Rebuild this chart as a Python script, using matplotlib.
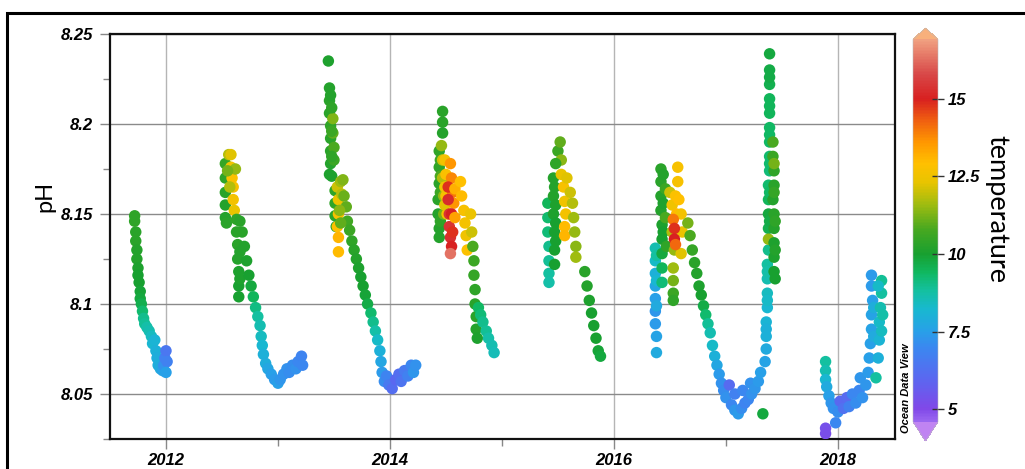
import matplotlib
matplotlib.use("Agg")
import matplotlib.pyplot as plt
from matplotlib.colors import LinearSegmentedColormap, Normalize
from matplotlib.patches import Rectangle
import pandas as pd

# dados: (ano decimal, pH, temperatura)
season_2011 = [
    (2011.72, 8.149, 10.4), (2011.72, 8.146, 10.4), (2011.73, 8.140, 10.3), (2011.73, 8.135, 10.3),
    (2011.74, 8.130, 10.2), (2011.74, 8.125, 10.2), (2011.75, 8.120, 10.1), (2011.75, 8.116, 10.0),
    (2011.76, 8.112, 10.0), (2011.77, 8.107, 9.9), (2011.77, 8.103, 9.8), (2011.78, 8.100, 9.6),
    (2011.79, 8.096, 9.3), (2011.80, 8.092, 9.0), (2011.81, 8.089, 8.9), (2011.83, 8.087, 8.7),
    (2011.85, 8.085, 8.6), (2011.87, 8.082, 8.4), (2011.88, 8.078, 8.2), (2011.90, 8.080, 8.1),
    (2011.91, 8.074, 8.0), (2011.92, 8.070, 7.9), (2011.93, 8.066, 7.9), (2011.95, 8.064, 7.8),
    (2011.97, 8.063, 7.6), (2011.98, 8.066, 7.2), (2011.99, 8.070, 6.8), (2012.00, 8.074, 6.5),
    (2012.01, 8.068, 6.8), (2012.00, 8.062, 7.5),
]

season_2012 = [
    (2012.53, 8.178, 10.5), (2012.53, 8.170, 10.4), (2012.53, 8.162, 10.3), (2012.53, 8.155, 10.2),
    (2012.53, 8.148, 10.2), (2012.54, 8.145, 10.3), (2012.56, 8.183, 11.8), (2012.58, 8.183, 12.2),
    (2012.58, 8.176, 12.5), (2012.59, 8.170, 12.8), (2012.60, 8.165, 12.7), (2012.60, 8.158, 12.6),
    (2012.61, 8.152, 12.3), (2012.57, 8.165, 11.8), (2012.62, 8.175, 11.5), (2012.55, 8.174, 11.2),
    (2012.63, 8.147, 10.4), (2012.63, 8.140, 10.3), (2012.64, 8.133, 10.3), (2012.64, 8.125, 10.2),
    (2012.65, 8.118, 10.1), (2012.65, 8.110, 10.0), (2012.65, 8.104, 10.0), (2012.66, 8.146, 10.3),
    (2012.66, 8.129, 10.2), (2012.66, 8.114, 10.1),
    (2012.68, 8.140, 10.3), (2012.70, 8.132, 10.2), (2012.72, 8.124, 10.1), (2012.74, 8.116, 10.0),
    (2012.76, 8.110, 9.8), (2012.78, 8.104, 9.5), (2012.80, 8.098, 9.1), (2012.82, 8.093, 8.8),
    (2012.84, 8.088, 8.6), (2012.85, 8.082, 8.4), (2012.86, 8.077, 8.2), (2012.87, 8.072, 8.0),
    (2012.89, 8.067, 7.9), (2012.91, 8.064, 7.7), (2012.94, 8.061, 7.5), (2012.97, 8.058, 7.4),
    (2013.00, 8.056, 7.5), (2013.02, 8.058, 7.3), (2013.05, 8.061, 7.2), (2013.08, 8.064, 7.2),
    (2013.10, 8.062, 7.1), (2013.13, 8.066, 7.1), (2013.16, 8.064, 7.2), (2013.18, 8.068, 7.0),
    (2013.21, 8.071, 6.9), (2013.22, 8.066, 7.0),
]

season_2013 = [
    (2013.45, 8.235, 10.1), (2013.46, 8.220, 10.2), (2013.46, 8.213, 10.3), (2013.46, 8.206, 10.3),
    (2013.47, 8.199, 10.4), (2013.47, 8.192, 10.3), (2013.47, 8.185, 10.3), (2013.47, 8.178, 10.2),
    (2013.46, 8.172, 10.1), (2013.48, 8.171, 10.1), (2013.49, 8.203, 11.3), (2013.49, 8.195, 11.0),
    (2013.50, 8.187, 10.8), (2013.50, 8.180, 10.6), (2013.47, 8.216, 10.2), (2013.48, 8.209, 10.4),
    (2013.48, 8.196, 10.6), (2013.48, 8.182, 10.4),
    (2013.51, 8.163, 10.4), (2013.51, 8.156, 10.4), (2013.51, 8.149, 10.3), (2013.52, 8.143, 10.2),
    (2013.53, 8.165, 12.0), (2013.54, 8.158, 12.4), (2013.54, 8.150, 12.7), (2013.53, 8.143, 12.9),
    (2013.54, 8.137, 13.1), (2013.54, 8.129, 13.0), (2013.56, 8.168, 11.6), (2013.57, 8.161, 11.8),
    (2013.58, 8.169, 11.3), (2013.59, 8.160, 11.1), (2013.61, 8.154, 11.0), (2013.62, 8.146, 10.7),
    (2013.64, 8.141, 10.6), (2013.55, 8.152, 11.4), (2013.56, 8.145, 11.0),
    (2013.66, 8.135, 10.4), (2013.68, 8.130, 10.3), (2013.70, 8.125, 10.2), (2013.72, 8.120, 10.1),
    (2013.74, 8.115, 10.0), (2013.76, 8.110, 10.0), (2013.78, 8.105, 9.9), (2013.80, 8.100, 9.7),
    (2013.83, 8.095, 9.3), (2013.85, 8.090, 9.0), (2013.87, 8.085, 8.7), (2013.89, 8.080, 8.3),
    (2013.91, 8.074, 8.0), (2013.92, 8.068, 7.7), (2013.93, 8.062, 7.4), (2013.95, 8.057, 7.1),
    (2013.97, 8.060, 6.9), (2013.99, 8.055, 6.6), (2014.02, 8.053, 6.2), (2014.05, 8.058, 6.0),
    (2014.08, 8.061, 6.2), (2014.10, 8.057, 6.4), (2014.13, 8.063, 6.6), (2014.16, 8.060, 6.8),
    (2014.19, 8.066, 7.0), (2014.21, 8.062, 7.3), (2014.23, 8.066, 7.2),
]

season_2014 = [
    (2014.47, 8.207, 10.3), (2014.47, 8.201, 10.3), (2014.47, 8.195, 10.2),
    (2014.44, 8.185, 10.4), (2014.44, 8.176, 10.4), (2014.44, 8.167, 10.3), (2014.43, 8.158, 10.3),
    (2014.43, 8.150, 10.2), (2014.44, 8.142, 10.2), (2014.44, 8.137, 10.2), (2014.45, 8.180, 10.6),
    (2014.45, 8.171, 10.8), (2014.45, 8.162, 10.6), (2014.45, 8.146, 10.4),
    (2014.46, 8.188, 11.5), (2014.47, 8.180, 12.0), (2014.47, 8.170, 11.8), (2014.48, 8.160, 11.5),
    (2014.48, 8.150, 11.2), (2014.49, 8.180, 12.6), (2014.50, 8.172, 12.8), (2014.50, 8.160, 12.7),
    (2014.51, 8.150, 12.5), (2014.49, 8.165, 12.4), (2014.49, 8.155, 12.2),
    (2014.54, 8.178, 13.6), (2014.55, 8.170, 13.8), (2014.56, 8.162, 14.0), (2014.57, 8.156, 13.6),
    (2014.52, 8.165, 14.8), (2014.52, 8.158, 15.2), (2014.53, 8.150, 15.4), (2014.53, 8.143, 15.4),
    (2014.54, 8.137, 15.3), (2014.55, 8.132, 15.0), (2014.56, 8.140, 14.8), (2014.55, 8.150, 15.0),
    (2014.54, 8.128, 16.3), (2014.58, 8.164, 13.2), (2014.58, 8.148, 13.4),
    (2014.63, 8.168, 12.9), (2014.64, 8.160, 13.0), (2014.66, 8.152, 12.7), (2014.67, 8.145, 12.6),
    (2014.68, 8.138, 12.5), (2014.69, 8.130, 12.8), (2014.72, 8.150, 12.4), (2014.73, 8.140, 12.0),
    (2014.74, 8.132, 10.8), (2014.75, 8.124, 10.6), (2014.75, 8.116, 10.5), (2014.76, 8.108, 10.4),
    (2014.76, 8.100, 10.3), (2014.77, 8.093, 10.3), (2014.77, 8.086, 10.2), (2014.78, 8.081, 10.1),
    (2014.79, 8.098, 9.4), (2014.81, 8.094, 9.2), (2014.83, 8.090, 9.0), (2014.86, 8.085, 8.9),
    (2014.88, 8.081, 8.7), (2014.91, 8.077, 8.6), (2014.93, 8.073, 8.5),
]

season_2015 = [
    (2015.41, 8.156, 9.5), (2015.41, 8.148, 9.3), (2015.41, 8.140, 9.2), (2015.42, 8.132, 9.0),
    (2015.42, 8.124, 8.9), (2015.42, 8.117, 8.8), (2015.42, 8.112, 8.7),
    (2015.46, 8.170, 10.2), (2015.46, 8.160, 10.2), (2015.46, 8.150, 10.1), (2015.47, 8.140, 10.0),
    (2015.47, 8.130, 10.0), (2015.47, 8.122, 10.0), (2015.50, 8.185, 10.6), (2015.52, 8.190, 11.0),
    (2015.53, 8.180, 11.4), (2015.48, 8.178, 10.4), (2015.47, 8.165, 10.2), (2015.48, 8.155, 10.1),
    (2015.48, 8.145, 10.0), (2015.48, 8.135, 10.0),
    (2015.53, 8.172, 12.3), (2015.55, 8.165, 12.7), (2015.56, 8.157, 12.5), (2015.57, 8.150, 12.6),
    (2015.58, 8.170, 12.2), (2015.56, 8.143, 13.0), (2015.56, 8.138, 13.1),
    (2015.63, 8.156, 11.8), (2015.64, 8.148, 11.6), (2015.65, 8.140, 11.5), (2015.66, 8.132, 11.4),
    (2015.66, 8.126, 11.6), (2015.61, 8.162, 12.0),
    (2015.74, 8.118, 10.3), (2015.76, 8.110, 10.2), (2015.78, 8.102, 10.1), (2015.80, 8.095, 10.0),
    (2015.82, 8.088, 10.0), (2015.84, 8.081, 10.0), (2015.86, 8.074, 9.9), (2015.88, 8.071, 9.8),
]

season_2016 = [
    (2016.37, 8.131, 8.6), (2016.37, 8.124, 8.3), (2016.37, 8.117, 8.0), (2016.37, 8.110, 7.7),
    (2016.37, 8.103, 7.5), (2016.37, 8.096, 7.3), (2016.37, 8.089, 7.4), (2016.38, 8.082, 7.6),
    (2016.38, 8.073, 7.8), (2016.38, 8.127, 8.8), (2016.38, 8.113, 8.2), (2016.38, 8.099, 7.8),
    (2016.42, 8.175, 10.3), (2016.42, 8.168, 10.3), (2016.42, 8.160, 10.2), (2016.42, 8.152, 10.2),
    (2016.43, 8.144, 10.1), (2016.43, 8.136, 10.0), (2016.43, 8.128, 9.8), (2016.43, 8.120, 9.5),
    (2016.43, 8.112, 9.2), (2016.44, 8.172, 10.2), (2016.44, 8.156, 10.1), (2016.44, 8.140, 10.0),
    (2016.46, 8.164, 10.6), (2016.46, 8.148, 10.8), (2016.47, 8.132, 10.4),
    (2016.57, 8.176, 12.7), (2016.57, 8.168, 12.7), (2016.50, 8.162, 12.0), (2016.52, 8.155, 12.5),
    (2016.55, 8.160, 12.8), (2016.56, 8.150, 13.0), (2016.52, 8.140, 11.8), (2016.54, 8.130, 11.5),
    (2016.60, 8.150, 12.6), (2016.61, 8.140, 12.4), (2016.60, 8.128, 12.2), (2016.58, 8.158, 12.9),
    (2016.53, 8.147, 14.0), (2016.54, 8.142, 14.8), (2016.54, 8.136, 15.0), (2016.55, 8.133, 14.2),
    (2016.53, 8.120, 11.6), (2016.53, 8.113, 11.2), (2016.53, 8.106, 10.6), (2016.53, 8.102, 10.4),
    (2016.66, 8.145, 11.2), (2016.68, 8.138, 10.8), (2016.70, 8.130, 10.5), (2016.72, 8.123, 10.3),
    (2016.74, 8.117, 10.2), (2016.76, 8.110, 10.1), (2016.78, 8.105, 10.0), (2016.80, 8.099, 9.7),
    (2016.82, 8.094, 9.3), (2016.84, 8.089, 8.9), (2016.86, 8.084, 8.6), (2016.88, 8.077, 8.3),
    (2016.90, 8.071, 8.0), (2016.92, 8.066, 7.7), (2016.94, 8.061, 7.4), (2016.96, 8.056, 7.2),
    (2016.98, 8.052, 7.1), (2017.00, 8.048, 7.2), (2017.03, 8.055, 6.1), (2017.05, 8.044, 7.0),
    (2017.08, 8.041, 7.3), (2017.08, 8.050, 6.8), (2017.11, 8.039, 7.4), (2017.14, 8.042, 7.1),
    (2017.15, 8.052, 7.0), (2017.17, 8.045, 6.9), (2017.20, 8.047, 7.0), (2017.22, 8.056, 7.2),
    (2017.23, 8.050, 7.2), (2017.26, 8.053, 7.3), (2017.29, 8.057, 7.4), (2017.31, 8.062, 7.5),
    (2017.33, 8.039, 9.8),
    (2017.35, 8.068, 7.6), (2017.36, 8.075, 7.8), (2017.36, 8.082, 8.0), (2017.36, 8.090, 8.1),
    (2017.37, 8.098, 8.2), (2017.37, 8.106, 8.4), (2017.37, 8.114, 8.6), (2017.37, 8.122, 8.8),
    (2017.38, 8.130, 9.0), (2017.36, 8.086, 8.0), (2017.37, 8.102, 8.3), (2017.37, 8.118, 8.7),
    (2017.39, 8.239, 9.8), (2017.39, 8.230, 9.7), (2017.39, 8.222, 9.6), (2017.39, 8.214, 9.5),
    (2017.39, 8.206, 9.5), (2017.39, 8.198, 9.4), (2017.39, 8.190, 9.4), (2017.39, 8.182, 9.3),
    (2017.39, 8.174, 9.2), (2017.38, 8.166, 9.3), (2017.38, 8.158, 9.5), (2017.38, 8.150, 9.8),
    (2017.38, 8.142, 9.6), (2017.38, 8.136, 11.5), (2017.39, 8.226, 9.7), (2017.39, 8.210, 9.5),
    (2017.39, 8.194, 9.4), (2017.39, 8.178, 9.3), (2017.39, 8.162, 9.4), (2017.39, 8.146, 9.7),
    (2017.42, 8.190, 10.8), (2017.42, 8.182, 10.6), (2017.43, 8.174, 10.4), (2017.43, 8.166, 10.3),
    (2017.42, 8.158, 10.2), (2017.43, 8.150, 10.3), (2017.43, 8.142, 10.2), (2017.43, 8.134, 10.1),
    (2017.43, 8.126, 10.1), (2017.43, 8.118, 10.0), (2017.44, 8.114, 10.0), (2017.43, 8.178, 11.2),
    (2017.43, 8.162, 10.5), (2017.44, 8.146, 10.4), (2017.44, 8.130, 10.2),
]

season_2018 = [
    (2017.89, 8.068, 8.8), (2017.89, 8.063, 8.6), (2017.89, 8.058, 8.2), (2017.90, 8.054, 7.8),
    (2017.92, 8.049, 7.5), (2017.94, 8.045, 7.3), (2017.96, 8.042, 7.2),
    (2017.89, 8.031, 5.3), (2017.89, 8.028, 5.2), (2017.98, 8.034, 7.0),
    (2018.00, 8.040, 7.1), (2018.02, 8.046, 6.0), (2018.05, 8.042, 6.3), (2018.08, 8.048, 6.1),
    (2018.10, 8.043, 6.8), (2018.13, 8.050, 7.0), (2018.16, 8.045, 7.1), (2018.19, 8.052, 7.0),
    (2018.20, 8.059, 7.3), (2018.22, 8.048, 7.2), (2018.25, 8.055, 7.3), (2018.27, 8.062, 7.4),
    (2018.28, 8.070, 7.5), (2018.29, 8.078, 7.5), (2018.30, 8.086, 7.6), (2018.30, 8.094, 7.6),
    (2018.31, 8.102, 7.5), (2018.30, 8.110, 7.4), (2018.30, 8.116, 7.4), (2018.32, 8.082, 7.8),
    (2018.32, 8.098, 7.9),
    (2018.34, 8.059, 8.8), (2018.36, 8.070, 8.0), (2018.37, 8.080, 8.1), (2018.37, 8.090, 8.3),
    (2018.38, 8.098, 8.6), (2018.39, 8.106, 8.8), (2018.39, 8.113, 8.9), (2018.36, 8.110, 8.3),
    (2018.39, 8.085, 8.4), (2018.40, 8.094, 8.7),
]

year_ticks = [2012, 2014, 2016, 2018]
ph_ticks = [8.05, 8.1, 8.15, 8.2, 8.25]
ph_tick_labels = ["8.05", "8.1", "8.15", "8.2", "8.25"]
temp_ticks = [5, 7.5, 10, 12.5, 15]
temp_tick_labels = ["5", "7.5", "10", "12.5", "15"]

rows = season_2011 + season_2012 + season_2013 + season_2014 + season_2015 + season_2016 + season_2018
df = pd.DataFrame(rows, columns=["ano", "ph", "temp"])

# escala de cores parecida com a do Ocean Data View
tmin, tmax = 4.6, 16.9
stops = [
    (4.6, "#9a66f0"), (5.0, "#8048e8"), (6.0, "#5a68f0"), (7.0, "#3a88f0"), (7.5, "#28a0e8"),
    (8.2, "#18b8d0"), (8.8, "#14c0a0"), (9.4, "#10b860"), (10.0, "#18a030"), (10.8, "#48a820"),
    (11.6, "#a0bc10"), (12.3, "#e8c400"), (12.9, "#ffc000"), (13.6, "#ff9800"), (14.3, "#f06010"),
    (15.0, "#d82020"), (15.8, "#d84848"), (16.9, "#f0a080"),
]
cmap = LinearSegmentedColormap.from_list(
    "odv", [((v - tmin) / (tmax - tmin), c) for v, c in stops])
cmap.set_under("#c084f2")
cmap.set_over("#f8b07c")
norm = Normalize(vmin=tmin, vmax=tmax)

W, H = 1025, 469
fig = plt.figure(figsize=(W / 100, H / 100), dpi=100)
ax = fig.add_axes([110 / W, 1 - 439 / H, 785 / W, 405 / H])

ax.scatter(df["ano"], df["ph"], c=df["temp"], cmap=cmap, norm=norm, s=68, edgecolors="none", zorder=3)

ax.set_xlim(2011.5, 2018.51)
ax.set_ylim(8.025, 8.25)
ax.set_xticks(year_ticks)
ax.set_xticks([2013, 2015, 2017], minor=True)
ax.set_yticks(ph_ticks)
ax.set_yticklabels(ph_tick_labels)
ax.set_yticks([8.025, 8.075, 8.125, 8.175, 8.225], minor=True)
ax.grid(True, which="major", axis="y", color="#8a8a8a", linewidth=1.0, zorder=0)
ax.grid(True, which="major", axis="x", color="#b5b5b5", linewidth=1.0, zorder=0)
ax.tick_params(which="both", direction="out", color="#888888", width=1)
ax.tick_params(which="major", length=7)
ax.tick_params(which="minor", length=5)
ax.tick_params(axis="y", pad=5)
ax.tick_params(axis="x", pad=3)
for lab in ax.get_xticklabels() + ax.get_yticklabels():
    lab.set_fontfamily("Liberation Sans")
    lab.set_fontweight("bold")
    lab.set_fontstyle("italic")
    lab.set_fontsize(12)
for sp in ax.spines.values():
    sp.set_linewidth(1.6)
    sp.set_color("#111111")

ax.set_ylabel("pH", fontfamily="Lato", fontsize=17, labelpad=14)
ax.yaxis.set_label_coords(-0.07, 0.6)

# marca do ODV
fig.text(906 / W, 1 - 388 / H, "Ocean Data View", rotation=90, ha="center", va="center",
         fontsize=8, fontweight="bold", fontstyle="italic", fontfamily="Liberation Sans")

# barra de cores
cax = fig.add_axes([913 / W, 1 - 441 / H, 25 / W, 413 / H])
sm = plt.cm.ScalarMappable(norm=norm, cmap=cmap)
cb = fig.colorbar(sm, cax=cax, extend="both", extendfrac=(0.05, 0.03))
cb.set_ticks(temp_ticks)
cb.set_ticklabels(temp_tick_labels)
cb.outline.set_linewidth(0.4)
cb.outline.set_edgecolor("#bbbbbb")
cax.tick_params(direction="inout", length=8, width=1, color="#333333", pad=3)
for lab in cax.get_yticklabels():
    lab.set_fontfamily("Liberation Sans")
    lab.set_fontweight("bold")
    lab.set_fontstyle("italic")
    lab.set_fontsize(12)
fig.text(997 / W, 1 - 209 / H, "temperature", rotation=-90, ha="center", va="center",
         fontsize=19.5, fontfamily="Lato")

# moldura externa
fig.add_artist(Rectangle((7 / W, -0.1), 1.2, 1.1 - 13 / H, transform=fig.transFigure,
                         fill=False, linewidth=2.2, edgecolor="black"))

plt.savefig("out.png", dpi=100)
plt.close()
